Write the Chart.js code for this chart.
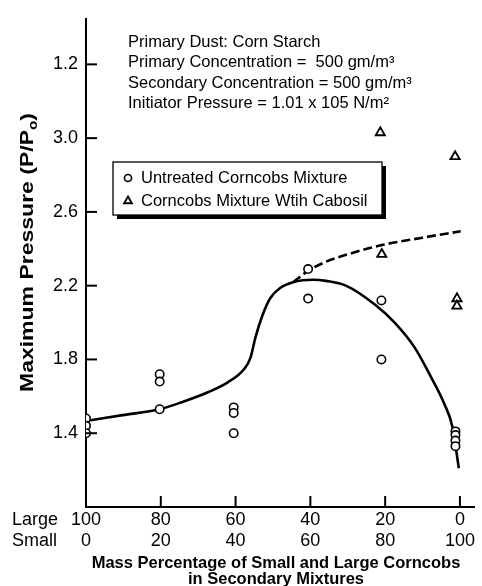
<!DOCTYPE html>
<html>
<head>
<meta charset="utf-8">
<script src="https://cdn.jsdelivr.net/npm/chart.js@4.4.1/dist/chart.umd.min.js"></script>
<style>
  html, body { margin: 0; padding: 0; background: #fff; }
  #wrap { width: 482px; height: 586px; }
</style>
</head>
<body>
<div id="wrap"><canvas id="pressureChart" width="482" height="586"></canvas></div>
<script>
// x = mass % of small corncobs in the secondary mixture, y = P/Po
const untreatedSmall = [0, 0, 0, 19.7, 19.7, 19.7, 39.5, 39.5, 39.5, 59.4, 59.4, 79, 79, 98.8, 98.8, 98.8, 98.8];
const untreatedPressure = [1.48, 1.44, 1.40, 1.72, 1.68, 1.53, 1.54, 1.51, 1.40, 2.29, 2.13, 2.12, 1.80, 1.41, 1.39, 1.36, 1.33];

const cabosilSmall = [78.7, 79.1, 98.7, 99.2, 99.2];
const cabosilPressure = [3.03, 2.37, 2.90, 2.13, 2.09];

// hand-drawn trend curves
const untreatedCurveSmall = [0, 9.8, 19.7, 25.6, 32.6, 37.9, 42.3, 44, 45.3, 47.1, 49.3, 51.9, 55.4, 60.7, 64.2, 69.5, 77.4, 82.6, 87.9, 92.3, 95.8, 98, 99.7];
const untreatedCurvePressure = [1.466, 1.498, 1.53, 1.568, 1.622, 1.676, 1.748, 1.81, 1.918, 2.034, 2.133, 2.187, 2.219, 2.232, 2.226, 2.2, 2.095, 1.998, 1.864, 1.703, 1.56, 1.434, 1.21];

const cabosilCurveSmall = [55.4, 59.4, 64.2, 70, 79.1, 89.6, 100.2];
const cabosilCurvePressure = [2.219, 2.28, 2.33, 2.37, 2.42, 2.459, 2.495];

// axis ticks
const xTickValues = [0, 20, 40, 60, 80, 100];
const xLargeLabels = ['100', '80', '60', '40', '20', '0'];
const xSmallLabels = ['0', '20', '40', '60', '80', '100'];
const yTickValues = [1.4, 1.8, 2.2, 2.6, 3.0, 3.4];
const yTickLabels = ['1.4', '1.8', '2.2', '2.6', '3.0', '1.2'];

const noteLines = [
    'Primary Dust: Corn Starch',
    'Primary Concentration =  500 gm/m³',
    'Secondary Concentration = 500 gm/m³',
    'Initiator Pressure = 1.01 x 105 N/m²'
];

const FONT = '"Liberation Sans", Arial, Helvetica, sans-serif';

function pairs(xs, ys) {
    return xs.map((x, i) => ({ x: x, y: ys[i] }));
}

// tick marks, titles, note block and the boxed legend
const decorPlugin = {
    id: 'decor',
    afterDraw(chart) {
        const ctx = chart.ctx;
        const area = chart.chartArea;
        const xs = chart.scales.x;
        const ys = chart.scales.y;

        ctx.save();
        ctx.strokeStyle = '#000';
        ctx.lineWidth = 2;
        xTickValues.forEach(v => {
            const px = xs.getPixelForValue(v);
            ctx.beginPath();
            ctx.moveTo(px, area.bottom);
            ctx.lineTo(px, area.bottom - 11);
            ctx.stroke();
        });
        yTickValues.forEach(v => {
            const py = ys.getPixelForValue(v);
            ctx.beginPath();
            ctx.moveTo(area.left, py);
            ctx.lineTo(area.left + 11, py);
            ctx.stroke();
        });

        ctx.fillStyle = '#000';

        // row headers for the two tick label lines
        ctx.font = '18px ' + FONT;
        ctx.textAlign = 'left';
        ctx.textBaseline = 'middle';
        ctx.fillText('Large', 12, area.bottom + 2 + 10.8);
        ctx.fillText('Small', 12, area.bottom + 2 + 10.8 + 21.6);

        // x title
        ctx.font = 'bold 16.5px ' + FONT;
        ctx.textAlign = 'center';
        ctx.fillText('Mass Percentage of Small and Large Corncobs', 276, 563);
        ctx.fillText('in Secondary Mixtures', 276, 579.5);

        // y title with subscript o, stretched along its length
        ctx.save();
        ctx.translate(33, 252.5);
        ctx.rotate(-Math.PI / 2);
        const mainText = 'Maximum Pressure (P/P';
        ctx.font = 'bold 18px ' + FONT;
        const w1 = ctx.measureText(mainText).width;
        const w3 = ctx.measureText(')').width;
        ctx.font = 'bold 12px ' + FONT;
        const w2 = ctx.measureText('o').width;
        const total = w1 + w2 + w3;
        ctx.scale(279 / total, 1);
        ctx.textAlign = 'left';
        ctx.textBaseline = 'alphabetic';
        let tx = -total / 2;
        ctx.font = 'bold 18px ' + FONT;
        ctx.fillText(mainText, tx, 0);
        tx += w1;
        ctx.font = 'bold 12px ' + FONT;
        ctx.fillText('o', tx, 4);
        tx += w2;
        ctx.font = 'bold 18px ' + FONT;
        ctx.fillText(')', tx, 0);
        ctx.restore();

        // test conditions
        ctx.font = '16.5px ' + FONT;
        ctx.textAlign = 'left';
        ctx.textBaseline = 'alphabetic';
        noteLines.forEach((line, i) => {
            ctx.fillText(line, 128, 46.5 + i * 20.6);
        });

        // legend box with drop shadow
        const bx = 113, by = 162, bw = 269, bh = 53;
        ctx.fillRect(bx + bw, by + 4, 4, bh);
        ctx.fillRect(bx + 4, by + bh, bw, 4);
        ctx.fillStyle = '#fff';
        ctx.fillRect(bx, by, bw, bh);
        ctx.lineWidth = 1.3;
        ctx.strokeRect(bx, by, bw, bh);

        ctx.font = '16.5px ' + FONT;
        ctx.textBaseline = 'middle';
        const entries = chart.data.datasets.filter(d => d.label);
        entries.forEach((ds, i) => {
            const ly = 178 + i * 23;
            ctx.lineWidth = ds.borderWidth;
            ctx.strokeStyle = ds.borderColor;
            ctx.fillStyle = ds.backgroundColor;
            Chart.helpers.drawPoint(ctx, {
                pointStyle: ds.pointStyle,
                radius: ds.pointRadius * 0.85,
                borderWidth: ds.borderWidth,
                rotation: 0
            }, 128, ly);
            ctx.fillStyle = '#000';
            ctx.fillText(ds.label, 141, ly + 0.5);
        });
        ctx.restore();
    }
};

const ctx = document.getElementById('pressureChart').getContext('2d');
const pressureChart = new Chart(ctx, {
    type: 'scatter',
    data: {
        datasets: [
            {
                label: 'Untreated Corncobs Mixture',
                data: pairs(untreatedSmall, untreatedPressure),
                pointStyle: 'circle',
                pointRadius: 4.2,
                borderWidth: 1.6,
                borderColor: '#000',
                backgroundColor: '#fff',
                order: 0
            },
            {
                label: 'Corncobs Mixture Wtih Cabosil',
                data: pairs(cabosilSmall, cabosilPressure),
                pointStyle: 'triangle',
                pointRadius: 5.3,
                borderWidth: 1.8,
                borderColor: '#000',
                backgroundColor: '#fff',
                order: 0
            },
            {
                type: 'line',
                data: pairs(untreatedCurveSmall, untreatedCurvePressure),
                borderColor: '#000',
                borderWidth: 2.6,
                pointRadius: 0,
                cubicInterpolationMode: 'monotone',
                fill: false,
                order: 1
            },
            {
                type: 'line',
                data: pairs(cabosilCurveSmall, cabosilCurvePressure),
                borderColor: '#000',
                borderWidth: 2.6,
                borderDash: [9, 4],
                pointRadius: 0,
                cubicInterpolationMode: 'monotone',
                fill: false,
                order: 1
            }
        ]
    },
    options: {
        responsive: false,
        animation: false,
        layout: { padding: { left: 0, right: 1, top: 15, bottom: 0 } },
        plugins: {
            legend: { display: false },
            tooltip: { enabled: false }
        },
        scales: {
            x: {
                type: 'linear',
                min: 0,
                max: 104,
                afterBuildTicks: s => { s.ticks = xTickValues.map(v => ({ value: v })); },
                afterFit: s => { s.height = 79; },
                grid: { display: false, drawTicks: false },
                border: { color: '#000', width: 2 },
                ticks: {
                    padding: 2,
                    color: '#000',
                    maxRotation: 0,
                    autoSkip: false,
                    font: { family: FONT, size: 18, lineHeight: 1.2 },
                    callback: v => {
                        const i = xTickValues.indexOf(v);
                        return [xLargeLabels[i], xSmallLabels[i]];
                    }
                }
            },
            y: {
                type: 'linear',
                min: 1.0,
                max: 3.647,
                afterBuildTicks: s => { s.ticks = yTickValues.map(v => ({ value: v })); },
                afterFit: s => { s.width = 86; },
                grid: { display: false, drawTicks: false },
                border: { color: '#000', width: 2 },
                ticks: {
                    padding: 8,
                    color: '#000',
                    font: { family: FONT, size: 18 },
                    callback: v => yTickLabels[yTickValues.indexOf(v)]
                }
            }
        }
    },
    plugins: [decorPlugin]
});
</script>
</body>
</html>
